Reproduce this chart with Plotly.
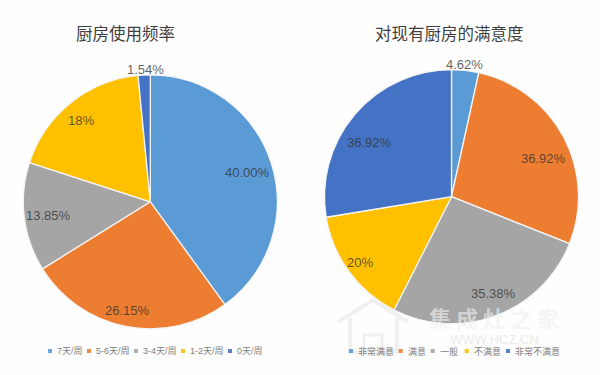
import plotly.graph_objects as go

# ---- data ----
freq_title = "厨房使用频率"
freq_categories = ["7天/周", "5-6天/周", "3-4天/周", "1-2天/周", "0天/周"]
freq_values = [40.00, 26.15, 13.85, 18.46, 1.54]
freq_labels = ["40.00%", "26.15%", "13.85%", "18%", "1.54%"]

sat_title = "对现有厨房的满意度"
sat_categories = ["非常满意", "满意", "一般", "不满意", "非常不满意"]
sat_values = [4.62, 36.92, 35.38, 20, 36.92]
sat_labels = ["4.62%", "36.92%", "35.38%", "20%", "36.92%"]

colors = ["#5B9BD5", "#ED7D31", "#A5A5A5", "#FFC000", "#4472C4"]

# ---- layout helpers (page pixels) ----
W, H = 600, 375
R = 127
freq_center = (150.3, 201.8)
sat_center = (451.5, 196.7)
freq_label_pos = [(247, 172), (127, 310), (48, 215), (81, 120), (145, 69)]
sat_label_pos = [(464, 64), (543, 158), (493, 293), (360, 262), (369, 142)]
freq_legend_x = [50, 89, 136, 183, 230]
sat_legend_x = [351, 400.7, 432.7, 466.7, 508]
LEGEND_Y = 351
CJK = "Noto Sans CJK SC"
LAT = "Liberation Sans, Noto Sans CJK SC"


def dom(c):
    return dict(x=[(c[0] - R) / W, (c[0] + R) / W],
                y=[1 - (c[1] + R) / H, 1 - (c[1] - R) / H])


def pie(cats, vals, c):
    return go.Pie(labels=cats, values=vals, domain=dom(c), sort=False,
                  direction="clockwise", rotation=0, textinfo="none",
                  marker=dict(colors=colors, line=dict(color="#F4F4F4", width=1.3)),
                  showlegend=False)


fig = go.Figure([pie(freq_categories, freq_values, freq_center),
                 pie(sat_categories, sat_values, sat_center)])

# pixel-space overlay for legends and labels
fig.add_trace(go.Scatter(x=[], y=[], xaxis="x", yaxis="y", showlegend=False))

ann = []
shapes = []


def px(x, y, text, size, color, family=LAT, anchor="center"):
    ann.append(dict(x=x, y=y, xref="x", yref="y", text=text, showarrow=False,
                    xanchor=anchor, yanchor="middle",
                    font=dict(size=size, color=color, family=family)))


# watermark first so chart text stays above it
px(494, 316.5, "<b>集 成 灶 之 家</b>", 22, "rgba(240,240,240,0.65)", CJK)
px(494, 339.5, "WWW.HCZ.CN", 13, "rgba(232,232,232,0.9)", "Liberation Sans")
wm_line = dict(color="rgba(236,236,236,0.8)", width=4)
shapes.append(dict(type="path", xref="x", yref="y",
                   path="M338,322 L373,300 L408,322 M350,318 L350,352 L397,352 L397,318",
                   fillcolor="rgba(0,0,0,0)", line=wm_line))
shapes.append(dict(type="rect", xref="x", yref="y", x0=364, x1=382, y0=335, y1=350,
                   fillcolor="rgba(0,0,0,0)",
                   line=dict(color="rgba(236,236,236,0.8)", width=3)))

for txts, pos in ((freq_labels, freq_label_pos), (sat_labels, sat_label_pos)):
    for t, (x, y) in zip(txts, pos):
        px(x, y, t, 13, "rgba(50,50,50,0.78)")

px(125.5, 33, freq_title, 16.5, "#3f3f3f", CJK)
px(449, 33, sat_title, 16.5, "#3f3f3f", CJK)

for cats, xs in ((freq_categories, freq_legend_x), (sat_categories, sat_legend_x)):
    for cat, x, col in zip(cats, xs, colors):
        shapes.append(dict(type="rect", xref="x", yref="y", x0=x - 2, x1=x + 2,
                           y0=LEGEND_Y - 2, y1=LEGEND_Y + 2,
                           fillcolor=col, line=dict(width=0), opacity=0.9))
        px(x + 5, LEGEND_Y, cat, 9, "#808080", LAT, "left")

fig.update_layout(
    width=W, height=H, autosize=False,
    margin=dict(l=0, r=0, t=0, b=0),
    paper_bgcolor="#FEFEFE", plot_bgcolor="rgba(0,0,0,0)",
    showlegend=False, annotations=ann, shapes=shapes,
    xaxis=dict(range=[0, W], visible=False, fixedrange=True),
    yaxis=dict(range=[H, 0], visible=False, fixedrange=True),
)
fig.write_html("out.html", config={"displayModeBar": False},
               post_script="document.body.style.margin='0';document.body.style.overflow='hidden';")
